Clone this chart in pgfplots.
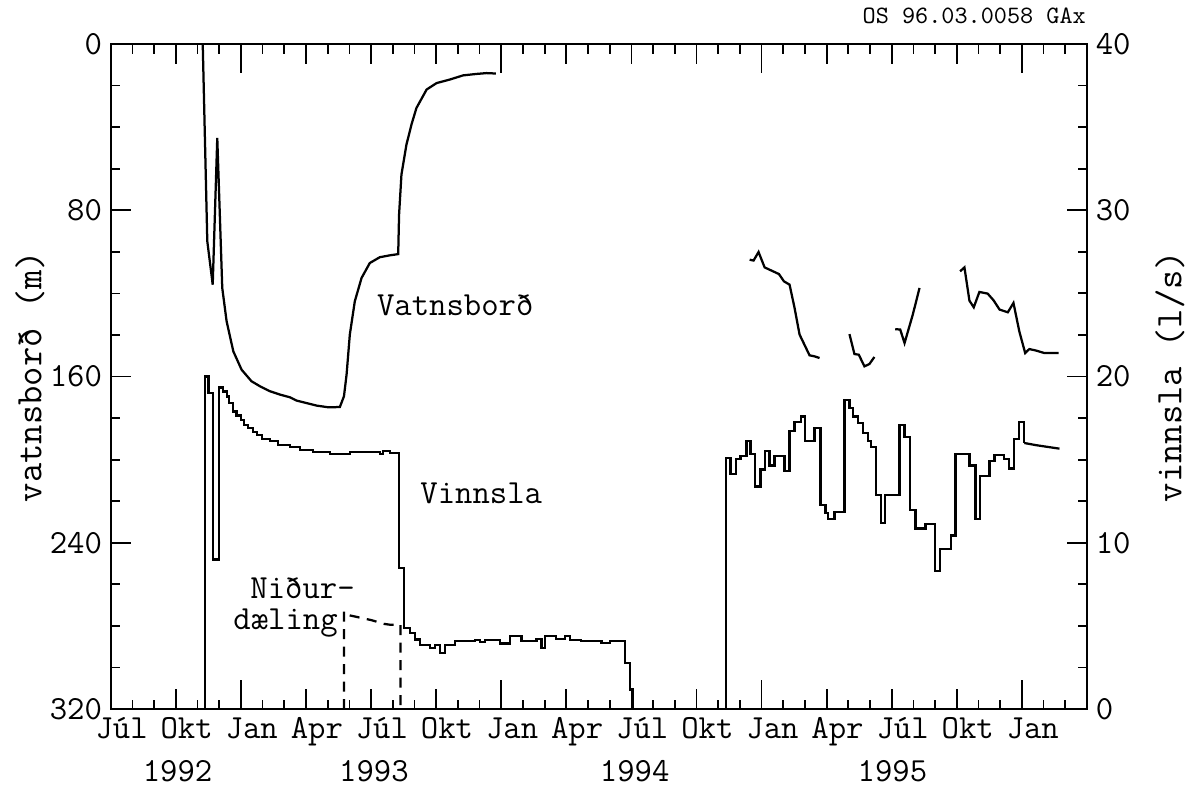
\documentclass[border=0pt]{standalone}
\usepackage{pgfplots}
\pgfplotsset{compat=1.18}
\newcommand{\tf}{\ttfamily\fontsize{13.5}{16}\selectfont}
\newcommand{\lf}{\ttfamily\fontsize{15}{18}\selectfont}
\begin{document}
\begin{tikzpicture}
\begin{axis}[name=main, scale only axis, width=390.5pt, height=266pt,
  xmin=0, xmax=45, ymin=0, ymax=320, y dir=reverse,
  axis line style={line width=0.8pt},
  tick align=inside, major tick length=8pt, minor tick length=3.8pt,
  every tick/.style={black, line width=0.7pt},
  xtick={0,3,...,42},
  xticklabels={Júl,Okt,Jan,Apr,Júl,Okt,Jan,Apr,Júl,Okt,Jan,Apr,Júl,Okt,Jan},
  minor xtick={0,...,45},
  x tick label style={font=\tf, xshift=4.34pt},
  extra x ticks={6,18,30,42}, extra x tick labels={},
  extra x tick style={major tick length=11.6pt},
  ytick={0,80,...,320}, minor ytick={0,20,...,320}, ytick pos=left,
  y tick label style={font=\tf},
  /pgf/number format/assume math mode=true,
  ylabel={vatnsborð (m)},
  ylabel style={font=\lf, at={(axis description cs:-0.0827,0.5)}, anchor=center},
  clip=false]
% Vatnsbord 1992-1993
\addplot[black, line width=0.9pt] coordinates {
(4.24,0) (4.45,94.9) (4.70,115.8) (4.91,45.2) (5.14,117.4) (5.34,133.4)
(5.65,147.9) (6.03,156.7) (6.49,162.3) (6.88,164.7) (7.34,167.1) (7.80,168.7)
(8.26,170.0) (8.57,171.6) (9.03,172.8) (9.49,174.0) (10.02,174.8) (10.56,174.7)
(10.75,169.5) (10.87,159.1) (11.02,139.8) (11.25,123.8) (11.56,112.6) (11.94,105.4)
(12.40,102.6) (12.86,101.7) (13.25,101.1) (13.29,82.1) (13.40,62.8) (13.63,48.4)
(13.86,38.8) (14.09,30.8) (14.56,21.9) (15.02,18.8) (15.63,17.1) (16.24,15.1)
(16.86,14.4) (17.32,14.0) (17.75,14.2)};
% Vatnsbord 1995 segments
\addplot[black, line width=0.9pt] coordinates {
(29.45,103.8) (29.63,104.2) (29.86,100.1) (30.14,107.5) (30.45,109.0) (30.80,110.7)
(31.03,114.2) (31.29,115.8) (31.52,127.0) (31.75,139.8) (32.21,149.8) (32.44,150.3)
(32.67,151.1)};
\addplot[black, line width=0.9pt] coordinates {
(34.05,139.6) (34.28,149.2) (34.48,149.5) (34.74,155.1) (34.97,154.0) (35.20,150.6)};
\addplot[black, line width=0.9pt] coordinates {
(36.16,137.2) (36.39,137.4) (36.59,143.9) (36.97,130.2) (37.28,117.4)};
\addplot[black, line width=0.9pt] coordinates {
(39.15,109.4) (39.35,107.5) (39.58,123.5) (39.78,126.7) (40.04,119.3) (40.42,120.1)
(40.69,123.3) (40.97,127.8) (41.35,129.1) (41.61,124.6) (41.88,138.3) (42.15,148.7)
(42.34,146.8) (42.65,147.5) (43.03,148.7) (43.69,148.7)};
\node[font=\tf, anchor=base west, inner sep=0pt] at (axis cs:12.25,130.6) {Vatnsborð};
\node[font=\tf, anchor=base west, inner sep=0pt] at (axis cs:14.25,221) {Vinnsla};
\node[font=\tf, align=left, anchor=base west, inner sep=0pt] at (axis cs:5.63,281.8) {\hspace*{6.8pt}Niður–\\[-3.5pt]dæling};
\node[font=\tf] at (axis cs:3.08,320) [yshift=-24.8pt] {1992};
\node[font=\tf] at (axis cs:12.13,320) [yshift=-24.8pt] {1993};
\node[font=\tf] at (axis cs:24.15,320) [yshift=-24.8pt] {1994};
\node[font=\tf] at (axis cs:36.03,320) [yshift=-24.8pt] {1995};
\node[font=\ttfamily\fontsize{10}{12}\selectfont] at (axis cs:39.8,0) [yshift=11.1pt] {OS 96.03.0058 GAx};
\end{axis}
\begin{axis}[scale only axis, width=390.5pt, height=266pt,
  xmin=0, xmax=45, ymin=0, ymax=40,
  hide x axis, axis y line*=right,
  axis line style={line width=0.8pt},
  tick align=inside, major tick length=8pt, minor tick length=3.8pt,
  every tick/.style={black, line width=0.7pt},
  ytick={0,10,...,40}, minor ytick={0,2.5,...,40},
  y tick label style={font=\tf},
  /pgf/number format/assume math mode=true,
  ylabel={vinnsla (l/s)},
  ylabel style={font=\lf, at={(axis description cs:1.085,0.5)}, anchor=center},
  clip=false]
% Vinnsla 1992-1994
\addplot[black, line width=0.9pt, const plot] coordinates {
(4.34,0) (4.34,20) (4.50,19.0) (4.73,9.0) (5.00,19.34) (5.19,19.1) (5.37,18.8)
(5.46,18.4) (5.62,17.9) (5.80,17.66) (5.99,17.4) (6.14,17.1) (6.34,16.9)
(6.54,16.66) (6.73,16.46) (6.96,16.26) (7.34,16.1) (7.72,15.9) (8.26,15.74)
(8.72,15.6) (9.33,15.45) (10.10,15.33) (11.02,15.45) (12.40,15.33) (12.56,15.54)
(12.87,15.42) (13.29,8.48) (13.53,4.87) (13.79,4.57) (14.02,4.18) (14.25,3.87)
(14.71,3.67) (14.94,3.87) (15.17,3.37) (15.40,3.87) (15.86,4.07) (16.78,4.13)
(17.01,4.03) (17.24,4.17) (17.93,3.94) (18.39,4.37) (18.93,4.07) (19.62,4.23)
(19.85,3.67) (20.00,4.41) (20.54,4.23) (20.93,4.41) (21.16,4.17) (21.69,4.07)
(22.62,3.97) (23.00,4.11) (23.69,2.77) (23.95,1.17) (24.07,0)};
% Vinnsla 1994-1996
\addplot[black, line width=0.9pt, const plot] coordinates {
(28.37,0) (28.37,15.09) (28.57,14.13) (28.83,15.05) (29.03,15.2) (29.30,16.1)
(29.49,15.33) (29.71,13.39) (29.95,14.4) (30.14,15.5) (30.37,14.65) (30.60,15.2)
(31.06,14.33) (31.29,16.7) (31.52,17.26) (31.80,17.6) (32.01,16.14) (32.44,16.9)
(32.72,12.29) (32.95,11.79) (33.05,11.45) (33.36,11.83) (33.82,18.6) (34.05,18.1)
(34.21,17.6) (34.44,17.2) (34.67,16.6) (34.90,16.1) (35.05,15.74) (35.28,12.89)
(35.51,11.18) (35.70,12.89) (36.36,17.1) (36.59,16.34) (36.85,11.99) (37.09,10.85)
(37.55,11.12) (38.01,8.32) (38.23,9.64) (38.74,10.44) (38.94,15.33) (39.58,14.65)
(39.86,11.45) (40.07,14.03) (40.50,14.9) (40.73,15.26) (41.19,15.06) (41.42,14.46)
(41.65,16.26) (41.88,17.26) (42.11,16.0)};
\addplot[black, line width=0.9pt] coordinates {
(42.11,16.0) (42.65,15.87) (43.11,15.78) (43.73,15.66)};
% Nidurdaeling
\addplot[black, line width=0.9pt, dash pattern=on 4pt off 3pt] coordinates {
(10.75,0) (10.75,5.87) (10.87,5.67) (11.3,5.55) (12.0,5.35) (12.6,5.12)
(12.87,5.07) (13.36,5.07) (13.36,0)};
\end{axis}
\path ([shift={(-44.3pt,-29.3pt)}]main.south west) rectangle ([shift={(42.8pt,17.1pt)}]main.north east);
\end{tikzpicture}
\end{document}
